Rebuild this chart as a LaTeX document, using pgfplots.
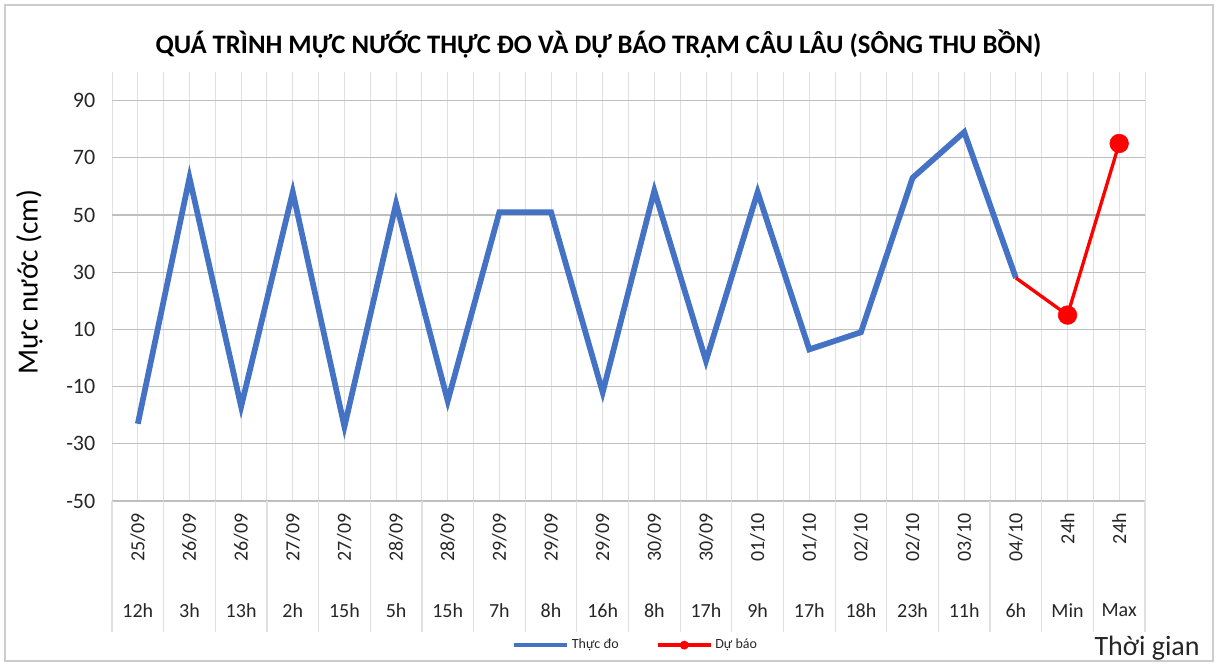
\documentclass[border=0pt]{standalone}
\usepackage{fontspec}
\setmainfont{Carlito}
\usepackage{pgfplots}
\pgfplotsset{compat=1.18}
\definecolor{doblue}{HTML}{4472C4}
\definecolor{dbred}{HTML}{FF0000}
\definecolor{hgrid}{HTML}{BFBFBF}
\definecolor{vgrid}{HTML}{E0E0E0}
\definecolor{txt}{HTML}{262626}

\begin{document}
\begin{tikzpicture}
\useasboundingbox (0,0) rectangle (912.75pt,499.5pt);
\draw[gray!40, line width=0.8pt] (3.75pt,3.75pt) rectangle (909.75pt,495.75pt);
\begin{axis}[
  at={(84pt,123.75pt)}, anchor=south west,
  scale only axis, width=774.75pt, height=321.75pt,
  xmin=-0.5, xmax=19.5, ymin=-50, ymax=100,
  ytick={-50,-30,...,90},
  /pgf/number format/assume math mode=true,
  xtick={0,...,19},
  minor xtick={-0.5,0.5,...,19.5},
  xticklabels={\rotatebox{90}{25/09},\rotatebox{90}{26/09},\rotatebox{90}{26/09},\rotatebox{90}{27/09},\rotatebox{90}{27/09},
    \rotatebox{90}{28/09},\rotatebox{90}{28/09},\rotatebox{90}{29/09},\rotatebox{90}{29/09},\rotatebox{90}{29/09},
    \rotatebox{90}{30/09},\rotatebox{90}{30/09},\rotatebox{90}{01/10},\rotatebox{90}{01/10},\rotatebox{90}{02/10},
    \rotatebox{90}{02/10},\rotatebox{90}{03/10},\rotatebox{90}{04/10},\rotatebox{90}{24h},\rotatebox{90}{24h}},
  extra x ticks={0,...,19},
  extra x tick labels={12h,3h,13h,2h,15h,5h,15h,7h,8h,16h,8h,17h,9h,17h,18h,23h,11h,6h,Min,Max},
  extra x tick style={grid=none, xticklabel style={yshift=-68pt}},
  xticklabel style={anchor=north, yshift=-9pt, inner sep=0pt, font=\fontsize{15}{17}\selectfont, text=txt},
  yticklabel style={font=\fontsize{16.5}{18}\selectfont, text=txt, xshift=-9pt},
  ymajorgrids, xmajorgrids, xminorgrids,
  major y grid style={hgrid, line width=0.8pt},
  major x grid style={vgrid, line width=0.7pt},
  minor x grid style={vgrid, line width=0.7pt},
  axis line style={draw=none},
  tick align=outside,
  xtick pos=lower, ytick pos=left,
  major tick length=0pt,
  minor tick length=98pt,
  minor tick style={vgrid, line width=0.9pt},
  title={\bfseries QUÁ TRÌNH MỰC NƯỚC THỰC ĐO VÀ DỰ BÁO TRẠM CÂU LÂU (SÔNG THU BỒN)},
  title style={at={(axis description cs:0.471,1.047)}, anchor=center, font=\fontsize{20}{22}\selectfont, text=black},
  ylabel={Mực nước (cm)},
  ylabel style={at={(axis description cs:-0.080,0.51)}, anchor=center, font=\fontsize{22}{24}\selectfont, text=black},
  xlabel={Thời gian},
  xlabel style={at={(axis description cs:1.002,-0.343)}, anchor=center, font=\fontsize{21}{23}\selectfont, text=txt},
  legend columns=2,
  legend style={at={(axis description cs:0.507,-0.336)}, anchor=center, draw=none, fill=none,
    font=\fontsize{10.5}{12}\selectfont, text=txt, /tikz/every even column/.append style={column sep=26pt}},
  legend image code/.code={\draw[mark repeat=2,mark phase=2,#1] plot coordinates {(0pt,0pt) (20pt,0pt) (40pt,0pt)};},
]
\addlegendimage{doblue, line width=3pt, mark=none}
\addlegendentry{Thực đo}
\addlegendimage{dbred, line width=2.5pt, mark=*, mark size=2pt}
\addlegendentry{Dự báo}

\addplot[doblue, line width=4.3pt, line join=miter, forget plot] coordinates {
  (0,-23) (1,63) (2,-17) (3,58) (4,-24) (5,54) (6,-15) (7,51) (8,51) (9,-12)
  (10,58.5) (11,-1) (12,58) (13,3) (14,9) (15,63) (16,79) (17,28)};

\addplot[dbred, line width=2.5pt, forget plot] coordinates {(17,28) (18,15) (19,75)};
\addplot[only marks, mark=*, mark size=7pt, dbred, forget plot] coordinates {(18,15) (19,75)};
\end{axis}
\end{tikzpicture}
\end{document}
